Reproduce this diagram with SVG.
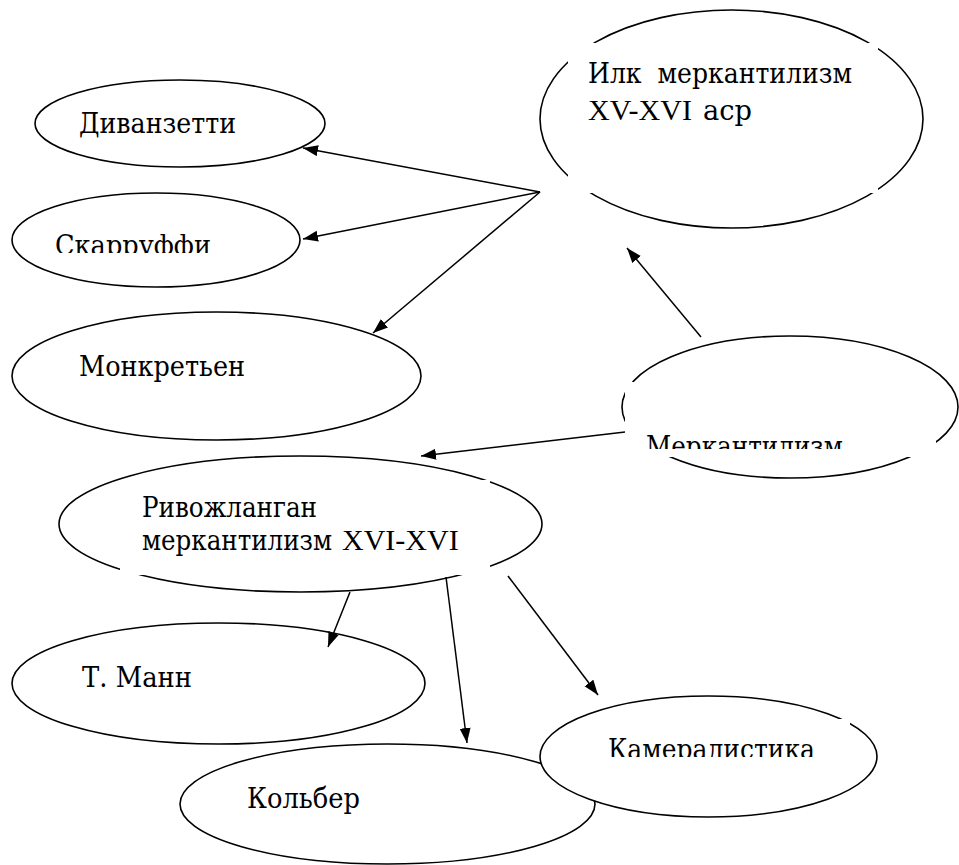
<svg xmlns="http://www.w3.org/2000/svg" width="959" height="865" viewBox="0 0 959 865">
<style>
.n ellipse{fill:#fff;stroke:#000;stroke-width:1.6}
.t{font-family:"DejaVu Serif","Liberation Serif",serif;font-size:27px;fill:#000}
.l{font-family:"Liberation Serif","DejaVu Serif",serif;font-size:30px;fill:#000}
.gap{fill:#fff;stroke:none}
.c line{stroke:#000;stroke-width:1.5;marker-end:url(#ah)}
</style>
<defs>
<marker id="ah" markerUnits="userSpaceOnUse" markerWidth="16" markerHeight="12" refX="15" refY="5.5" orient="auto"><path d="M0,0 L15,5.5 L0,11 z" fill="#000"/></marker>
<clipPath id="clipSk"><rect x="0" y="0" width="959" height="253"/></clipPath>
<clipPath id="clipMk"><rect x="0" y="0" width="959" height="449"/></clipPath>
<clipPath id="clipKm"><rect x="0" y="0" width="959" height="757"/></clipPath>
</defs>
<rect width="959" height="865" fill="#fff"/>

<g id="ilk" class="n">
<ellipse cx="731.5" cy="119" rx="191.5" ry="109"/>
<rect class="gap" x="568" y="43" width="310" height="150"/>
<text class="t" x="588" y="83" xml:space="preserve" textLength="264" lengthAdjust="spacingAndGlyphs">Илк  меркантилизм</text>
<text class="l" x="588" y="120">XV-XVI</text>
<text class="t" x="703" y="120" textLength="49" lengthAdjust="spacingAndGlyphs">аср</text>
</g>

<g id="divanzetti" class="n">
<ellipse cx="180" cy="123.5" rx="145" ry="43.5"/>
<text class="t" x="79" y="133" textLength="157" lengthAdjust="spacingAndGlyphs">Диванзетти</text>
</g>

<g id="skarruffi" class="n">
<ellipse cx="156" cy="240" rx="144" ry="47"/>
<text class="t" x="55" y="255" clip-path="url(#clipSk)" textLength="156" lengthAdjust="spacingAndGlyphs">Скарруффи</text>
</g>

<g id="monkretyen" class="n">
<ellipse cx="216.5" cy="376" rx="204.5" ry="64"/>
<text class="t" x="79" y="376" textLength="166" lengthAdjust="spacingAndGlyphs">Монкретьен</text>
</g>

<g id="merkantilizm" class="n">
<ellipse cx="790" cy="407" rx="168" ry="71"/>
<rect class="gap" x="625" y="382" width="311" height="75"/>
<text class="t" x="646" y="456" clip-path="url(#clipMk)" textLength="197" lengthAdjust="spacingAndGlyphs">Меркантилизм</text>
</g>

<g id="rivojlangan" class="n">
<ellipse cx="300.5" cy="524" rx="241.5" ry="68"/>
<rect class="gap" x="120" y="480" width="370" height="95"/>
<text class="t" x="142" y="517" textLength="175" lengthAdjust="spacingAndGlyphs">Ривожланган</text>
<text class="t" x="142" y="550" textLength="190" lengthAdjust="spacingAndGlyphs">меркантилизм</text>
<text class="l" x="342" y="550" font-size="31">XVI-XVI</text>
</g>

<g id="tmann" class="n">
<ellipse cx="218.5" cy="683.5" rx="206.5" ry="60.5"/>
<text class="t" x="82" y="687" xml:space="preserve" textLength="110" lengthAdjust="spacingAndGlyphs">Т. Манн</text>
</g>

<g id="kolber" class="n">
<ellipse cx="387.5" cy="804" rx="207.5" ry="60"/>
<text class="t" x="247" y="808" textLength="113" lengthAdjust="spacingAndGlyphs">Кольбер</text>
</g>

<g id="kameralistika" class="n">
<ellipse cx="708.5" cy="756.5" rx="168.5" ry="60.5"/>
<rect class="gap" x="580" y="719" width="270" height="60"/>
<text class="t" x="608" y="759" clip-path="url(#clipKm)" textLength="207" lengthAdjust="spacingAndGlyphs">Камералистика</text>
</g>

<g id="connectors" class="c">
<line x1="540" y1="192" x2="303" y2="148"/>
<line x1="540" y1="192" x2="303" y2="239"/>
<line x1="540" y1="192" x2="373" y2="333"/>
<line x1="701" y1="337" x2="627" y2="248"/>
<line x1="625" y1="432" x2="421" y2="456"/>
<line x1="350" y1="592" x2="328" y2="647"/>
<line x1="446" y1="577" x2="467" y2="743"/>
<line x1="508" y1="576" x2="598" y2="695"/>
</g>
</svg>
